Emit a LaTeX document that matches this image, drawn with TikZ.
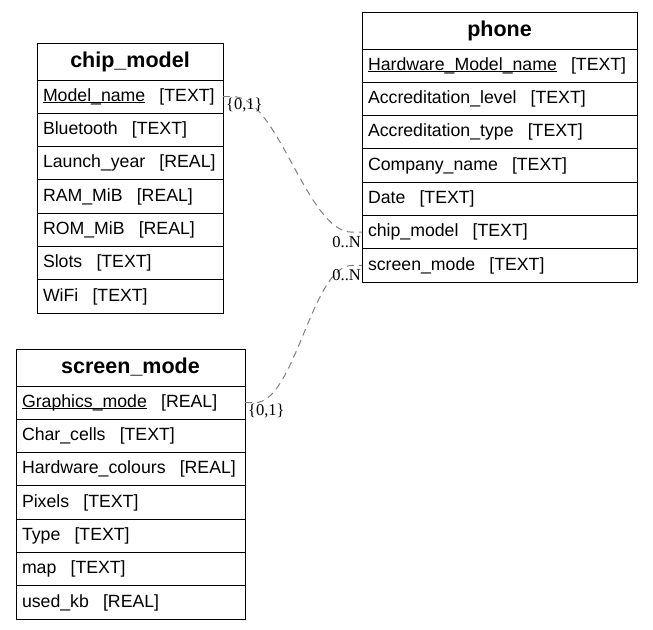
\documentclass[tikz,border=0pt]{standalone}
\usepackage{fontspec}
\setmainfont{Liberation Sans}
\newfontfamily\lblfont{Liberation Serif}
\usetikzlibrary{positioning}
\newcommand\fld[2]{\mbox{#1\hspace{0.8em}[#2]}}
\newcommand\keyf[1]{\underline{\smash{#1}}}

\begin{document}
\begin{tikzpicture}[x=1pt,y=-1pt,
  tblhead/.style={draw, line width=1pt, outer sep=0pt, anchor=north west,
    minimum width=#1, minimum height=37pt, inner sep=0pt,
    font=\fontsize{21.5}{25}\selectfont\bfseries},
  tblrow/.style={draw, line width=1pt, outer sep=0pt, text width=#1,
    inner xsep=6pt, inner ysep=0pt, minimum height=33.3pt, align=left,
    font=\fontsize{17.7}{21}\selectfont},
  card/.style={font=\lblfont\fontsize{16.5}{18}\selectfont, inner sep=1pt},
  link/.style={draw=gray, line width=1pt, dash pattern=on 7pt off 5pt}]
  \useasboundingbox (0,0) rectangle (653,629);
  % chip_model
  \node[tblhead=186pt] (cm0) at (37,43) {chip\_model};
  \foreach \f [count=\i, remember=\i as \j (initially 0)] in
    {\fld{\keyf{Model\_name}}{TEXT}, \fld{Bluetooth}{TEXT},
     \fld{Launch\_year}{REAL}, \fld{RAM\_MiB}{REAL}, \fld{ROM\_MiB}{REAL},
     \fld{Slots}{TEXT}, \fld{WiFi}{TEXT}}
    \node[tblrow=174pt, below=0pt of cm\j] (cm\i) {\f};
  % phone
  \node[tblhead=275pt] (ph0) at (362,12) {phone};
  \foreach \f [count=\i, remember=\i as \j (initially 0)] in
    {\fld{\keyf{Hardware\_Model\_name}}{TEXT},
     \fld{Accreditation\_level}{TEXT}, \fld{Accreditation\_type}{TEXT},
     \fld{Company\_name}{TEXT}, \fld{Date}{TEXT}, \fld{chip\_model}{TEXT},
     \fld{screen\_mode}{TEXT}}
    \node[tblrow=263pt, below=0pt of ph\j] (ph\i) {\f};
  % screen_mode
  \node[tblhead=229pt] (sm0) at (16,349) {screen\_mode};
  \foreach \f [count=\i, remember=\i as \j (initially 0)] in
    {\fld{\keyf{Graphics\_mode}}{REAL}, \fld{Char\_cells}{TEXT},
     \fld{Hardware\_colours}{REAL}, \fld{Pixels}{TEXT}, \fld{Type}{TEXT},
     \fld{map}{TEXT}, \fld{used\_kb}{REAL}}
    \node[tblrow=217pt, below=0pt of sm\j] (sm\i) {\f};
  % links
  \draw[link] (cm1.east) -- ++(10,0) .. controls +(45,0) and +(-45,0)
    .. ([xshift=-10pt]ph6.west) -- (ph6.west);
  \draw[link] (sm1.east) -- ++(10,0) .. controls +(40,0) and +(-40,0)
    .. ([xshift=-10pt]ph7.west) -- (ph7.west);
  \node[card, anchor=north west] (c1) at ([xshift=2pt]cm1.east) {\{0,1\}};
  \node[card, anchor=north east] (n1) at ([yshift=-3pt]ph6.west) {0..N};
  \node[card, anchor=north west] (c2) at ([xshift=2pt]sm1.east) {\{0,1\}};
  \node[card, anchor=north east] (n2) at ([yshift=-3pt]ph7.west) {0..N};
\end{tikzpicture}
\end{document}
